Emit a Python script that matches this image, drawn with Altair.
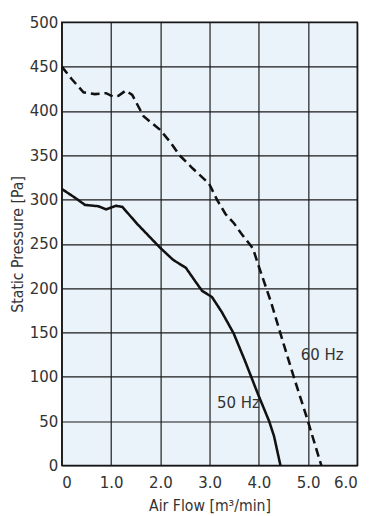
import altair as alt
import pandas as pd

# 60 Hz curve (dashed)
flow_60 = [0.0, 0.2, 0.44, 0.67, 0.9, 1.05, 1.15, 1.3, 1.43, 1.66, 1.99, 2.2, 2.39, 2.66, 2.99, 3.15, 3.32, 3.5, 3.64, 3.88, 4.01, 4.25, 4.51, 4.71, 4.97, 5.27]
pres_60 = [450, 436, 421, 419, 420, 416, 417, 423, 418, 394, 379, 365, 350, 335, 318, 300, 284, 273, 262, 245, 223, 184, 136, 100, 55, 0]

# 50 Hz curve (solid)
flow_50 = [0.0, 0.27, 0.47, 0.74, 0.9, 1.0, 1.1, 1.23, 1.53, 1.99, 2.26, 2.52, 2.72, 2.85, 3.05, 3.25, 3.49, 3.72, 3.98, 4.21, 4.31, 4.44]
pres_50 = [312, 302, 294, 292.5, 289, 291, 293, 291.7, 272.6, 246, 232, 223, 207, 197, 190, 173, 149, 118, 81, 50, 33, 0]

label_text = ["60 Hz", "50 Hz"]
label_x = [4.85, 3.15]
label_y = [124, 70]

x_ticks = [0, 1, 2, 3, 4, 5, 6]
y_ticks = [0, 50, 100, 150, 200, 250, 300, 350, 400, 450, 500]

FONT = "Liberation Sans Narrow, DejaVu Sans Condensed, Roboto"
TXT = "#333333"

df = pd.DataFrame(
    {"flow": flow_60 + flow_50,
     "pressure": pres_60 + pres_50,
     "series": ["60 Hz"] * len(flow_60) + ["50 Hz"] * len(flow_50),
     "order": list(range(len(flow_60))) + list(range(len(flow_50)))}
)
labels = pd.DataFrame({"text": label_text, "flow": label_x, "pressure": label_y})

x_scale = alt.Scale(domain=[0, 6], nice=False, zero=False)
y_scale = alt.Scale(domain=[0, 500], nice=False)

x_axis = alt.Axis(
    title="Air Flow [m³/min]", values=x_ticks,
    labelExpr="datum.value == 0 ? '0' : format(datum.value, '.1f')",
    grid=True, gridColor="#1a1a1a", gridWidth=1.2, gridOpacity=1,
    ticks=False, domain=False, labelPadding=10, labelFontSize=17,
    labelFont=FONT, labelColor=TXT, titleFont=FONT, titleFontSize=16,
    titleFontWeight="normal", titleColor=TXT, titlePadding=7,
)
y_axis = alt.Axis(
    title="Static Pressure [Pa]", values=y_ticks,
    grid=True, gridColor="#1a1a1a", gridWidth=1.2, gridOpacity=1,
    ticks=False, domain=False, labelPadding=4, labelFontSize=17,
    labelFont=FONT, labelColor=TXT, titleFont=FONT, titleFontSize=16,
    titleFontWeight="normal", titleColor=TXT, titlePadding=4,
)

lines = alt.Chart(df).mark_line(color="#111111", strokeWidth=2.6).encode(
    x=alt.X("flow:Q", scale=x_scale, axis=x_axis),
    y=alt.Y("pressure:Q", scale=y_scale, axis=y_axis),
    detail="series:N",
    order="order:Q",
    strokeDash=alt.StrokeDash(
        "series:N",
        scale=alt.Scale(domain=["60 Hz", "50 Hz"], range=[[9, 5], [1, 0]]),
        legend=None,
    ),
)

text = alt.Chart(labels).mark_text(
    align="left", baseline="middle", font=FONT, fontSize=17, color=TXT
).encode(
    x=alt.X("flow:Q", scale=x_scale),
    y=alt.Y("pressure:Q", scale=y_scale),
    text="text:N",
)

chart = alt.layer(lines, text).properties(
    width=302, height=453,
    autosize=alt.AutoSizeParams(type="none"),
    padding={"left": 55, "top": 9, "right": 13, "bottom": 46},
).configure_view(
    fill="#EBF3FA", stroke="#111111", strokeWidth=1.5
)

chart.save("out.html", embed_options={"renderer": "svg", "actions": False})
